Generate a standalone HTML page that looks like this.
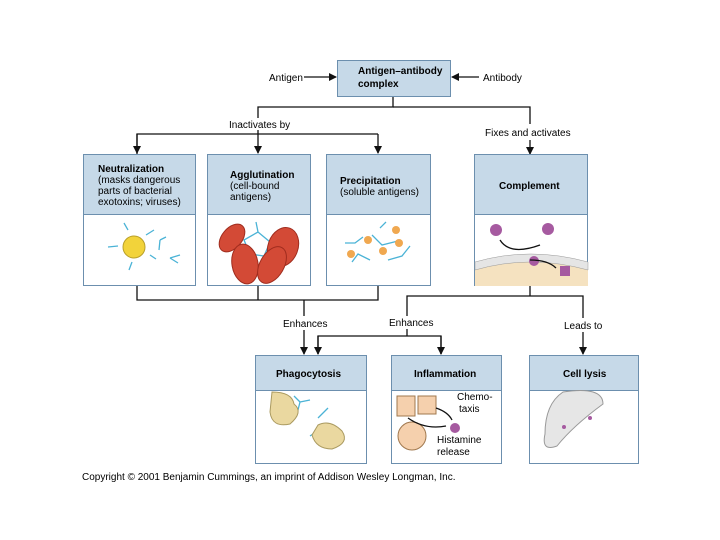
<!DOCTYPE html>
<html><head><style>
body{margin:0;background:#fff;}
svg{display:block;font-family:"Liberation Sans",sans-serif;}
.b{font-weight:bold;font-size:10px;}
.t{font-size:10px;}
</style></head><body>
<svg width="720" height="540" viewBox="0 0 720 540">
<defs><marker id="a" markerWidth="8" markerHeight="8" refX="7" refY="4" orient="auto" markerUnits="userSpaceOnUse"><path d="M0,0L8,4L0,8z" fill="#111"/></marker></defs>
<g stroke="#111" stroke-width="1.3" fill="none">
<line x1="304" y1="77" x2="336" y2="77" marker-end="url(#a)"/>
<line x1="479" y1="77" x2="452" y2="77" marker-end="url(#a)"/>
<polyline points="393,97 393,107 258,107 258,118"/>
<polyline points="393,107 530,107 530,124"/>
<line x1="530" y1="140" x2="530" y2="154" marker-end="url(#a)"/>
<polyline points="137,154 137,134 378,134"/>
<line x1="137" y1="134" x2="137" y2="153" marker-end="url(#a)"/>
<line x1="258" y1="130" x2="258" y2="153" marker-end="url(#a)"/>
<line x1="378" y1="134" x2="378" y2="153" marker-end="url(#a)"/>
<polyline points="137,286 137,300 378,300 378,286"/>
<line x1="258" y1="286" x2="258" y2="300"/>
<line x1="304" y1="300" x2="304" y2="316"/>
<line x1="304" y1="330" x2="304" y2="354" marker-end="url(#a)"/>
<line x1="530" y1="286" x2="530" y2="296"/>
<polyline points="407,316 407,296 583,296 583,318"/>
<line x1="583" y1="332" x2="583" y2="354" marker-end="url(#a)"/>
<polyline points="318,354 318,336 441,336 441,354"/>
<line x1="318" y1="336" x2="318" y2="354" marker-end="url(#a)"/>
<line x1="441" y1="336" x2="441" y2="354" marker-end="url(#a)"/>
<line x1="407" y1="329" x2="407" y2="336"/>
</g>
<g stroke="#6c8fae" stroke-width="1">
<rect x="337.5" y="60.5" width="113" height="36" fill="#c6d9e8"/>
<rect x="83.5" y="154.5" width="112" height="131" fill="#fff"/><rect x="83.5" y="154.5" width="112" height="60" fill="#c6d9e8"/>
<rect x="207.5" y="154.5" width="103" height="131" fill="#fff"/><rect x="207.5" y="154.5" width="103" height="60" fill="#c6d9e8"/>
<rect x="326.5" y="154.5" width="104" height="131" fill="#fff"/><rect x="326.5" y="154.5" width="104" height="60" fill="#c6d9e8"/>
<rect x="474.5" y="154.5" width="113" height="131" fill="#fff"/><rect x="474.5" y="154.5" width="113" height="60" fill="#c6d9e8"/>
<rect x="255.5" y="355.5" width="111" height="108" fill="#fff"/><rect x="255.5" y="355.5" width="111" height="35" fill="#c6d9e8"/>
<rect x="391.5" y="355.5" width="110" height="108" fill="#fff"/><rect x="391.5" y="355.5" width="110" height="35" fill="#c6d9e8"/>
<rect x="529.5" y="355.5" width="109" height="108" fill="#fff"/><rect x="529.5" y="355.5" width="109" height="35" fill="#c6d9e8"/>
</g>
<!-- illustrations -->
<circle cx="134" cy="247" r="11" fill="#f2d33a" stroke="#b9a02a"/>
<g stroke="#4bb3d6" stroke-width="1.3" fill="none">
<path d="M118,246l-10,1M146,235l8-5M128,230l-4-7M150,255l6,4M132,262l-3,8M160,240l6-3M160,240l-1,10M170,258l8,5M170,258l10-3"/>
<path d="M244,240l14-8 12,10-6,14-14-2zM258,232l-2-10M270,242l10-4M264,256l4,8"/>
<path d="M345,243l10,0 8,-6M372,235l10,10 16,-4M388,260l14,-4 8,-10M352,262l6,-8 12,6M380,228l6-6"/>
<path d="M300,402l-6,-6M300,402l10,-2M300,402l-2,8M318,418l10,-10M322,428l-12,8"/>
</g>
<g fill="#d34a36" stroke="#a02c1e">
<ellipse cx="232" cy="238" rx="10" ry="16" transform="rotate(40 232 238)"/>
<ellipse cx="283" cy="247" rx="15" ry="20" transform="rotate(20 283 247)"/>
<ellipse cx="245" cy="264" rx="13" ry="20" transform="rotate(-10 245 264)"/>
<ellipse cx="272" cy="265" rx="12" ry="20" transform="rotate(30 272 265)"/>
</g>
<g fill="#f0a850"><circle cx="396" cy="230" r="4"/><circle cx="368" cy="240" r="4"/><circle cx="399" cy="243" r="4"/><circle cx="383" cy="251" r="4"/><circle cx="351" cy="254" r="4"/></g>
<path d="M475,268 Q530,250 588,268 L588,286 L475,286z" fill="#f5e2c0"/>
<path d="M475,262 Q530,246 588,262 L588,270 Q530,254 475,270z" fill="#e5e5e5" stroke="#999" stroke-width=".5"/>
<circle cx="496" cy="230" r="6" fill="#a65aa0"/><circle cx="548" cy="229" r="6" fill="#a65aa0"/><circle cx="534" cy="261" r="5" fill="#a65aa0"/>
<rect x="560" y="266" width="10" height="10" fill="#a65aa0"/>
<path d="M500,240 Q510,256 540,245M530,260 Q548,260 556,268" stroke="#111" fill="none" stroke-width="1.3"/>
<path d="M272,392 q20,0 22,12 q10,8 -4,20 q-18,4 -20,-12z M318,425 q12,-6 24,6 q8,12 -10,18 q-16,0 -20,-14z" fill="#ead8a0" stroke="#aa9a60"/>
<path d="M397,396 h18 v20 h-18z M418,396 h18 v18 h-18z" fill="#f5d0ad" stroke="#a0784e"/>
<circle cx="412" cy="436" r="14" fill="#f5d0ad" stroke="#a0784e"/>
<circle cx="455" cy="428" r="5" fill="#a65aa0"/>
<path d="M408,418 Q425,430 446,426M436,408 Q448,412 452,420" stroke="#111" fill="none" stroke-width="1.3"/>
<path d="M563,392 q40,-6 40,12 q-30,22 -46,42 q-16,6 -12,-12 q0,-30 18,-42z" fill="#e6e6e6" stroke="#999"/>
<circle cx="564" cy="427" r="2" fill="#a65aa0"/><circle cx="590" cy="418" r="2" fill="#a65aa0"/>
<!-- text -->
<text class="t" x="269" y="81">Antigen</text>
<text class="t" x="483" y="81">Antibody</text>
<text class="b" x="358" y="74">Antigen–antibody</text>
<text class="b" x="358" y="87">complex</text>
<text class="t" x="229" y="128">Inactivates by</text>
<text class="t" x="485" y="136">Fixes and activates</text>
<text class="b" x="98" y="172">Neutralization</text>
<text class="t" x="98" y="183">(masks dangerous</text>
<text class="t" x="98" y="194">parts of bacterial</text>
<text class="t" x="98" y="205">exotoxins; viruses)</text>
<text class="b" x="230" y="178">Agglutination</text>
<text class="t" x="230" y="189">(cell-bound</text>
<text class="t" x="230" y="200">antigens)</text>
<text class="b" x="340" y="184">Precipitation</text>
<text class="t" x="340" y="195">(soluble antigens)</text>
<text class="b" x="499" y="189">Complement</text>
<text class="t" x="283" y="327">Enhances</text>
<text class="t" x="389" y="326">Enhances</text>
<text class="t" x="564" y="329">Leads to</text>
<text class="b" x="276" y="377">Phagocytosis</text>
<text class="b" x="414" y="377">Inflammation</text>
<text class="b" x="563" y="377">Cell lysis</text>
<text class="t" x="457" y="400">Chemo-</text>
<text class="t" x="459" y="412">taxis</text>
<text class="t" x="437" y="443">Histamine</text>
<text class="t" x="437" y="455">release</text>
<text class="t" x="82" y="480">Copyright © 2001 Benjamin Cummings, an imprint of Addison Wesley Longman, Inc.</text>
</svg>
</body></html>
